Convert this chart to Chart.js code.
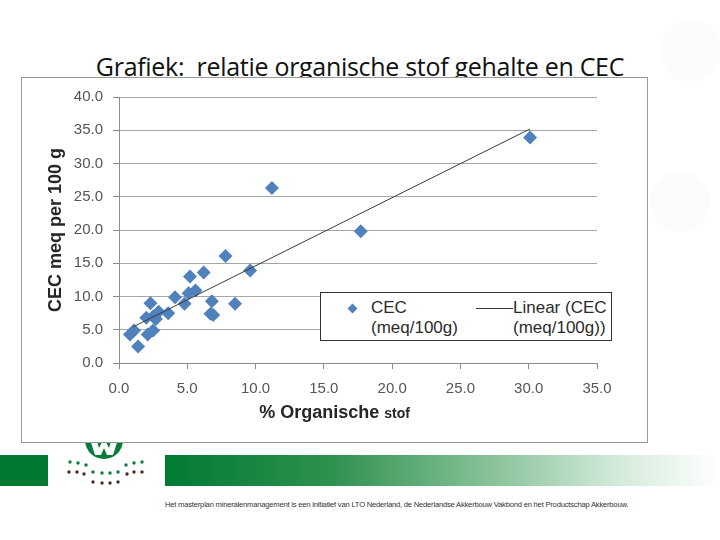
<!DOCTYPE html>
<html>
<head>
<meta charset="utf-8">
<script src="https://cdn.jsdelivr.net/npm/chart.js@4"></script>
<style>
  html, body { margin:0; padding:0; background:#fff; }
  body { width:720px; height:540px; position:relative; overflow:hidden; font-family:"Liberation Sans", Arial, sans-serif; }
  .blob { position:absolute; border-radius:50%; background:#fcfcfc; }
  #title { position:absolute; left:0; width:720px; top:49px; text-align:center; white-space:pre;
    font-family:"Open Sans", sans-serif; font-size:25px; color:#111; letter-spacing:-0.3px; }
  #box { position:absolute; left:21px; top:77px; width:627px; height:366px; background:#fff;
    border:1px solid #9a9a9a; box-sizing:border-box; }
  #box canvas { position:absolute; left:0; top:0; }
  #xtitle { position:absolute; left:0; width:100%; top:323px; line-height:22px; text-align:center; font-weight:bold;
    font-size:18px; color:#262626; }
  #xtitle small { font-size:14px; }
  #legend { position:absolute; left:298px; top:214px; width:292px; height:49px; border:1.5px solid #333;
    box-sizing:border-box; background:#fff; font-size:17px; color:#2b2b2b; line-height:20px; }
  #legend .mk { position:absolute; left:28px; top:12px; width:7px; height:7px; background:#4f81bd; transform:rotate(45deg); }
  #legend .t1 { position:absolute; left:50px; top:5px; }
  #legend .ln { position:absolute; left:155px; top:15px; width:37px; border-top:1px solid #333; }
  #legend .t2 { position:absolute; left:192px; top:5px; }
  #band1 { position:absolute; left:0; top:455px; width:48px; height:31px; background:#007a33; }
  #band2 { position:absolute; left:165px; top:455px; width:555px; height:31px;
    background:linear-gradient(to right, #007a33 0%, #2e9150 30%, #8cc49d 60%, #d5ebdb 82%, #ffffff 100%); }
  #logo { position:absolute; left:0; top:420px; }
  #foot { position:absolute; left:165px; top:501px; font-size:7px; color:#333; white-space:nowrap;
    transform-origin:left top; letter-spacing:-0.2px; }
</style>
</head>
<body>
<div class="blob" style="left:660px;top:20px;width:62px;height:62px;"></div>
<div class="blob" style="left:650px;top:170px;width:60px;height:62px;"></div>
<div id="title">Grafiek:  relatie organische stof gehalte en CEC</div>

<svg id="logo" width="170" height="70" viewBox="0 420 170 70">
  <circle cx="104" cy="440" r="19" fill="#0b7d3a"/>
  <path d="M89 436 L95 436 L99 448 L104 438 L109 448 L113 436 L119 436 L113 455 L107 455 L104 448 L101 455 L95 455 Z" fill="#fff"/>
  <g fill="#0b7d3a">
    <circle cx="70" cy="462" r="1.7"/><circle cx="78" cy="463" r="1.7"/><circle cx="86" cy="465" r="1.7"/>
    <circle cx="126" cy="465" r="1.7"/><circle cx="134" cy="463" r="1.7"/><circle cx="142" cy="462" r="1.7"/>
    <circle cx="93" cy="472" r="1.7"/><circle cx="102" cy="473" r="1.7"/><circle cx="110" cy="473" r="1.7"/><circle cx="118" cy="472" r="1.7"/>
  </g>
  <g fill="#4a2a1a">
    <circle cx="69" cy="472" r="1.7"/><circle cx="77" cy="472" r="1.7"/><circle cx="84" cy="474" r="1.7"/>
    <circle cx="127" cy="474" r="1.7"/><circle cx="134" cy="472" r="1.7"/><circle cx="142" cy="472" r="1.7"/>
    <circle cx="93" cy="482" r="1.7"/><circle cx="102" cy="483" r="1.7"/><circle cx="110" cy="483" r="1.7"/><circle cx="118" cy="482" r="1.7"/>
  </g>
</svg>
<div id="band1"></div>
<div id="band2"></div>
<div id="foot">Het masterplan mineralenmanagement is een initiatief van LTO Nederland, de Nederlandse Akkerbouw Vakbond en het Productschap Akkerbouw.</div>

<div id="box">
  <canvas id="c" width="625" height="364"></canvas>
  <div id="xtitle">% Organische <small>stof</small></div>
  <div id="legend">
    <span class="mk"></span>
    <div class="t1">CEC<br>(meq/100g)</div>
    <span class="ln"></span>
    <div class="t2">Linear (CEC<br>(meq/100g))</div>
  </div>
</div>

<script>
// % organische stof vs CEC (meq/100g)
const orgStof = [0.8, 1.1, 1.4, 2.0, 2.1, 2.3, 2.5, 2.5, 2.7, 2.9, 3.6, 4.1, 4.8, 5.1, 5.2, 5.6, 6.2, 6.7, 6.8, 6.9, 7.8, 8.5, 9.6, 11.2, 17.7, 30.1];
const cecVals = [4.3, 4.9, 2.5, 6.8, 4.3, 9.0, 7.0, 4.9, 6.6, 7.7, 7.5, 9.9, 8.9, 10.5, 13.0, 10.9, 13.6, 7.4, 9.3, 7.2, 16.1, 8.9, 13.9, 26.3, 19.8, 33.9];
// trend line end points
const trendX = [1.0, 30.1];
const trendY = [5.4, 35.2];

const xTicks = [0, 5, 10, 15, 20, 25, 30, 35];
const yTicks = [0, 5, 10, 15, 20, 25, 30, 35, 40];

const pts = orgStof.map((x, i) => ({ x, y: cecVals[i] }));
const trend = trendX.map((x, i) => ({ x, y: trendY[i] }));

const tickFont = { family: '"Liberation Sans", Arial, sans-serif', size: 15 };

new Chart(document.getElementById('c'), {
  type: 'scatter',
  data: {
    datasets: [
      { label: 'CEC (meq/100g)', data: pts, pointStyle: 'rectRot', pointRadius: 7, pointHoverRadius: 7,
        backgroundColor: '#4f81bd', borderColor: '#4f81bd', borderWidth: 0, order: 1 },
      { label: 'Linear (CEC (meq/100g))', data: trend, showLine: true, pointRadius: 0,
        borderColor: '#3a3a3a', borderWidth: 1, order: 0 }
    ]
  },
  options: {
    responsive: false,
    animation: false,
    layout: { padding: { left: 0, right: 50, top: 18, bottom: 0 } },
    plugins: { legend: { display: false }, tooltip: { enabled: false } },
    scales: {
      x: {
        type: 'linear', min: 0, max: 35,
        afterFit: s => { s.height = 79; },
        afterBuildTicks: s => { s.ticks = xTicks.map(v => ({ value: v })); },
        grid: { drawOnChartArea: false, drawTicks: true, tickLength: 6, color: '#8c8c8c' },
        border: { color: '#8c8c8c' },
        ticks: { font: tickFont, color: '#555', padding: 11, maxRotation: 0, callback: v => v.toFixed(1) }
      },
      y: {
        type: 'linear', min: 0, max: 40,
        afterFit: s => { s.width = 97; },
        afterBuildTicks: s => { s.ticks = yTicks.map(v => ({ value: v })); },
        grid: { color: '#a6a6a6', tickLength: 6, tickColor: '#8c8c8c' },
        border: { color: '#8c8c8c' },
        title: { display: true, text: 'CEC meq per 100 g', color: '#262626', padding: { top: 23, bottom: 0 },
          font: { family: '"Liberation Sans", Arial, sans-serif', size: 18, weight: 'bold' } },
        ticks: { font: tickFont, color: '#555', padding: 10, callback: v => v.toFixed(1) }
      }
    }
  }
});

const foot = document.getElementById('foot');
foot.style.transform = 'scaleX(' + (463 / foot.scrollWidth) + ')';
</script>
</body>
</html>
